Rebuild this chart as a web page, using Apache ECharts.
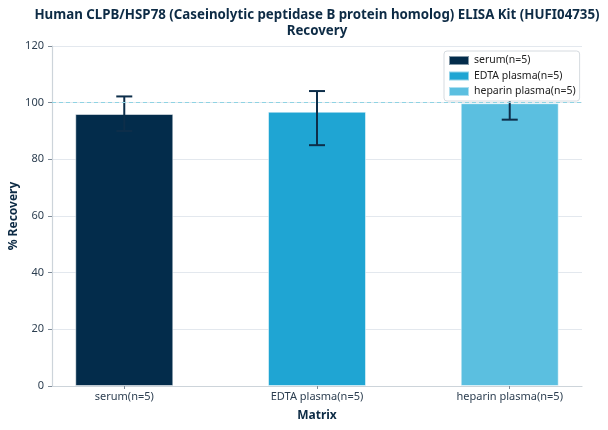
<!DOCTYPE html>
<html>
<head>
<meta charset="utf-8">
<script src="https://cdn.jsdelivr.net/npm/echarts@6/dist/echarts.min.js"></script>
<style>html,body{margin:0;padding:0;background:#fff;}#c{width:608px;height:430px;}</style>
</head>
<body>
<div id="c"></div>
<script>
const categories = ['serum(n=5)', 'EDTA plasma(n=5)', 'heparin plasma(n=5)'];
const recovery = [96, 96.8, 99.8];
const errLow = [90, 85, 94];
const errHigh = [102.2, 104.1, 106];
const colors = ['#032c4b', '#1fa5d3', '#5bbfe0'];
const yTicks = [0, 20, 40, 60, 80, 100, 120];
const yAxisTitle = '% Recovery';

const chart = echarts.init(document.getElementById('c'), null, {renderer: 'canvas'});
const font = 'Noto Sans';
const txt = '#2c3e50';

const barSeries = categories.map((c, i) => ({
  name: c,
  type: 'bar',
  barWidth: 98,
  barGap: '-100%',
  z: 2,
  itemStyle: {color: colors[i], borderColor: 'rgba(255,255,255,0.5)', borderWidth: 1},
  data: [[i, recovery[i]]],
  markLine: i === 0 ? {
    silent: true, symbol: 'none', label: {show: false},
    lineStyle: {color: '#8fd3e3', type: [4, 3], width: 1.2},
    data: [{yAxis: 100}]
  } : undefined
}));

const errSeries = {
  type: 'custom',
  z: 3,
  silent: true,
  data: categories.map((c, i) => [i, errLow[i], errHigh[i]]),
  renderItem: function (params, api) {
    const x = api.value(0);
    const lo = api.coord([x, api.value(1)]);
    const hi = api.coord([x, api.value(2)]);
    const cap = 8;
    const st = {stroke: '#0d2e4a', lineWidth: 2};
    return {type: 'group', children: [
      {type: 'line', shape: {x1: lo[0], y1: lo[1], x2: hi[0], y2: hi[1]}, style: st},
      {type: 'line', shape: {x1: lo[0] - cap, y1: lo[1], x2: lo[0] + cap, y2: lo[1]}, style: st},
      {type: 'line', shape: {x1: hi[0] - cap, y1: hi[1], x2: hi[0] + cap, y2: hi[1]}, style: st}
    ]};
  }
};

chart.setOption({
  animation: false,
  backgroundColor: '#fff',
  title: {
    text: 'Human CLPB/HSP78 (Caseinolytic peptidase B protein homolog) ELISA Kit (HUFI04735)\nRecovery',
    left: 312, top: 2, textAlign: 'center',
    textStyle: {fontFamily: font, fontSize: 13.3, fontWeight: 'bold', color: '#0d2b45', lineHeight: 16}
  },
  graphic: [{
    type: 'text', x: 14, y: 216, rotation: Math.PI / 2,
    style: {text: yAxisTitle, align: 'center', verticalAlign: 'middle',
      font: 'bold 12px "Noto Sans"', fill: '#0d2b45'}
  }],
  legend: {
    data: categories,
    orient: 'vertical',
    left: 444, top: 51,
    z: 10,
    padding: [4, 4, 4, 4],
    itemWidth: 20, itemHeight: 9, itemGap: 4.5,
    icon: 'rect',
    backgroundColor: '#fff',
    borderColor: '#d6dbe0', borderWidth: 1, borderRadius: 3,
    textStyle: {fontFamily: font, fontSize: 10.5, color: '#222'}
  },
  grid: {left: 52, right: 26, top: 46, bottom: 44, outerBoundsMode: 'none'},
  xAxis: {
    type: 'value',
    min: -0.375, max: 2.375,
    name: 'Matrix', nameLocation: 'middle', nameGap: 24,
    nameTextStyle: {fontFamily: font, fontSize: 12, fontWeight: 'bold', color: '#0d2b45'},
    axisLine: {show: true, onZero: false, lineStyle: {color: '#cdd4da', width: 1.2}},
    axisTick: {show: true, customValues: [0, 1, 2], length: 3, lineStyle: {color: '#7f8c99'}},
    axisLabel: {customValues: [0, 1, 2], formatter: v => categories[Math.round(v)], fontFamily: font, fontSize: 11, color: txt, margin: 5},
    splitLine: {show: false}
  },
  yAxis: {
    type: 'value',
    min: 0, max: 120, interval: 20,
    axisLine: {show: true, onZero: false, lineStyle: {color: '#cdd4da', width: 1.2}},
    axisTick: {show: true, length: 4, lineStyle: {color: '#7f8c99'}},
    axisLabel: {fontFamily: font, fontSize: 11, color: txt, margin: 8, formatter: v => yTicks.includes(v) ? String(v) : ''},
    splitLine: {show: true, lineStyle: {color: '#e3e8ee', width: 1}}
  },
  series: [...barSeries, errSeries]
});
</script>
</body>
</html>
